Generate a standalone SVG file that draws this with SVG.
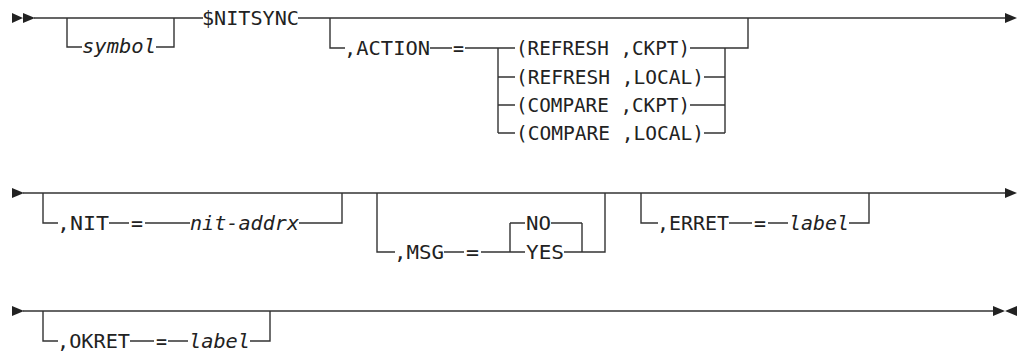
<svg xmlns="http://www.w3.org/2000/svg" width="1019" height="352" viewBox="0 0 1019 352">
<style>
.t{font-family:"DejaVu Sans Mono","Liberation Mono",monospace;font-size:19px;fill:#222}
.i{font-style:italic}
.c path{fill:none;stroke:#333;stroke-width:1.4}
.a{fill:#222}
</style>
<rect width="1019" height="352" fill="#fff"/>
<g class="c" id="connectors">
<!-- row 1 -->
<path d="M34 18H203M298 18H1006"/>
<path d="M67 18V47H82M156 47H174V18"/>
<path d="M330 18V48H345M430 48H452M465 48H498"/>
<path d="M498 48V133M498 48H515M498 77H515M498 105H515M498 133H515"/>
<path d="M690 48H725M704 77H725M690 105H725M704 133H725M725 48V133M725 48H748V18"/>
<!-- row 2 -->
<path d="M23 193H1006"/>
<path d="M43 193V223H58M109 223H129M145 223H190M299 223H342V193"/>
<path d="M377 193V252H395M444 252H464M481 252H510M510 223V252M510 223H525M510 252H525M551 223H582M564 252H582M582 223V252M582 252H605V193"/>
<path d="M641 193V223H658M729 223H752M768 223H788M849 223H869V193"/>
<!-- row 3 -->
<path d="M23 311H994"/>
<path d="M43 311V341H58M130 341H154M168 341H188M250 341H270V311"/>
</g>
<g id="markers">
<path class="a" d="M12 13L23 18L12 23ZM23 13L35 18L23 23Z"/>
<path class="a" d="M1005 13L1017 18L1005 23Z"/>
<path class="a" d="M12 188L24 193L12 198Z"/>
<path class="a" d="M1005 188L1017 193L1005 198Z"/>
<path class="a" d="M12 306L24 311L12 316Z"/>
<path class="a" d="M993 306L1005 311L993 316ZM1017 306L1005 311L1017 316Z"/>
</g>
<g id="symbol"><text class="t i" x="82" y="53" textLength="74" lengthAdjust="spacingAndGlyphs">symbol</text></g>
<g id="nitsync"><text class="t" x="202" y="25" textLength="97" lengthAdjust="spacingAndGlyphs">$NITSYNC</text></g>
<g id="action"><text class="t" x="344" y="55" textLength="86" lengthAdjust="spacingAndGlyphs">,ACTION</text></g>
<g id="action-eq"><text class="t" x="453" y="55" textLength="11" lengthAdjust="spacingAndGlyphs">=</text></g>
<g id="opt1"><text class="t" x="516" y="55" textLength="174" lengthAdjust="spacingAndGlyphs">(REFRESH ,CKPT)</text></g>
<g id="opt2"><text class="t" x="516" y="84" textLength="188" lengthAdjust="spacingAndGlyphs">(REFRESH ,LOCAL)</text></g>
<g id="opt3"><text class="t" x="516" y="112" textLength="174" lengthAdjust="spacingAndGlyphs">(COMPARE ,CKPT)</text></g>
<g id="opt4"><text class="t" x="516" y="140" textLength="188" lengthAdjust="spacingAndGlyphs">(COMPARE ,LOCAL)</text></g>
<g id="nit"><text class="t" x="57" y="230" textLength="52" lengthAdjust="spacingAndGlyphs">,NIT</text></g>
<g id="nit-eq"><text class="t" x="131" y="230" textLength="12" lengthAdjust="spacingAndGlyphs">=</text></g>
<g id="nit-addrx"><text class="t i" x="190" y="230" textLength="109" lengthAdjust="spacingAndGlyphs">nit-addrx</text></g>
<g id="msg"><text class="t" x="394" y="259" textLength="50" lengthAdjust="spacingAndGlyphs">,MSG</text></g>
<g id="msg-eq"><text class="t" x="466" y="259" textLength="13" lengthAdjust="spacingAndGlyphs">=</text></g>
<g id="no"><text class="t" x="526" y="230" textLength="25" lengthAdjust="spacingAndGlyphs">NO</text></g>
<g id="yes"><text class="t" x="526" y="259" textLength="38" lengthAdjust="spacingAndGlyphs">YES</text></g>
<g id="erret"><text class="t" x="657" y="230" textLength="72" lengthAdjust="spacingAndGlyphs">,ERRET</text></g>
<g id="erret-eq"><text class="t" x="754" y="230" textLength="12" lengthAdjust="spacingAndGlyphs">=</text></g>
<g id="erret-label"><text class="t i" x="789" y="230" textLength="60" lengthAdjust="spacingAndGlyphs">label</text></g>
<g id="okret"><text class="t" x="57" y="348" textLength="73" lengthAdjust="spacingAndGlyphs">,OKRET</text></g>
<g id="okret-eq"><text class="t" x="156" y="348" textLength="11" lengthAdjust="spacingAndGlyphs">=</text></g>
<g id="okret-label"><text class="t i" x="189" y="348" textLength="61" lengthAdjust="spacingAndGlyphs">label</text></g>
</svg>
